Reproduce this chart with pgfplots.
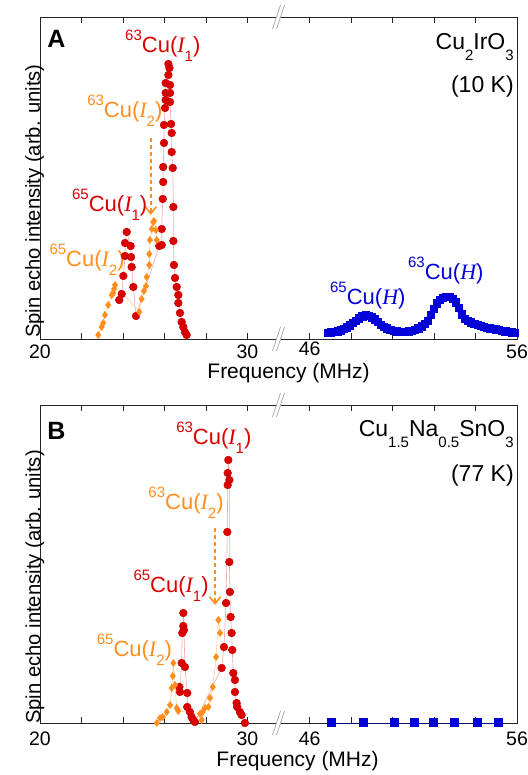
\documentclass[border=0pt]{standalone}
\usepackage{fontspec}
\setmainfont{Liberation Sans}
\newfontfamily\tms{Liberation Serif}
\usepackage{pgfplots}
\pgfplotsset{compat=1.18}
\usetikzlibrary{arrows.meta}
\definecolor{cred}{RGB}{218,0,0}
\definecolor{corange}{RGB}{255,142,30}
\definecolor{cblue}{RGB}{0,0,215}
\newcommand{\fT}{\fontsize{19.5}{23}\selectfont}
\newcommand{\fX}{\fontsize{21}{25}\selectfont}
\newcommand{\fY}{\fontsize{20.2}{24}\selectfont}
\newcommand{\fL}{\fontsize{22}{26}\selectfont}
\newcommand{\fS}{\fontsize{15}{18}\selectfont}
\newcommand{\isoI}[2]{\raisebox{12pt}{\fS #1}Cu({\tms\itshape I}\raisebox{-9pt}{\fS #2})}
\newcommand{\isoH}[1]{\raisebox{12pt}{\fS #1}Cu({\tms\itshape H})}
\newcommand{\sub}[1]{\raisebox{-11pt}{\fS #1}}
\newcommand{\brk}[1]{%
  \fill[white] (axis cs:31.5,#1) ++(-6pt,-12pt) -- ++(8pt,24pt) -- ++(4pt,0pt) -- ++(-8pt,-24pt) -- cycle;
  \draw[black!35, line width=0.7pt] (axis cs:31.5,#1) ++(-6pt,-12pt) -- ++(8pt,24pt);
  \draw[black!35, line width=0.7pt] (axis cs:31.5,#1) ++(-2pt,-12pt) -- ++(8pt,24pt);}
\pgfplotsset{
  panel/.style={
    scale only axis, width=477pt, xmin=20, xmax=43, ymin=0,
    xtick={20,22,24,26,28,30,33,35,37,39,41,43},
    ytick=\empty, tick align=inside, major tick length=6pt,
    clip=false,
    axis line style={black!85, line width=0.8pt},
    every tick/.style={black!85, line width=0.8pt},
    tick label style={font=\fT, inner sep=0pt},
    xlabel={Frequency (MHz)},
    ylabel={Spin echo intensity (arb. units)},
    ylabel style={font=\fY, at={(axis description cs:0,0.478)}, anchor=base, xshift=-16pt},
  },
  redl/.style={draw=cred!35, line width=0.6pt, mark=*, mark size=3.9pt, mark options={draw=cred!90!black, fill=cred, line width=0.4pt}},
  orgl/.style={draw=corange!45, line width=0.6pt, mark=diamond*, mark size=3.7pt, mark options={draw=corange, fill=corange, line width=0.3pt}},
}
\begin{document}
\begin{tikzpicture}
\useasboundingbox (0,0) rectangle (527pt,775pt);
% ---------------- Panel A ----------------
\begin{axis}[panel, at={(40pt,436pt)}, anchor=south west, height=322pt, ymax=322,
  xticklabels={20,,,,,30,\raisebox{3pt}{46},,,,,56},
  xticklabel style={anchor=base, yshift=-20pt},
  xlabel style={font=\fX, inner sep=0pt, at={(axis description cs:0.521,0)}, anchor=base, yshift=-40pt}]
% 65Cu(I1) + 63Cu(I1)
\addplot[redl] coordinates {
(23.82,39) (23.94,45) (24.02,63) (24.10,83) (24.10,96) (24.18,107) (24.37,93) (24.39,82) (24.42,72) (24.50,52) (24.63,23)
(25.75,93) (25.87,94) (25.87,110) (25.92,140) (25.94,157) (25.94,172) (25.98,196) (25.98,214) (26.03,231) (26.06,239) (26.06,246) (26.06,256)
(26.19,264) (26.19,275) (26.24,271) (26.27,254) (26.27,246) (26.27,237) (26.32,215) (26.35,206) (26.35,187) (26.40,171) (26.43,132) (26.43,98)
(26.46,74) (26.51,61) (26.59,52) (26.67,44) (26.67,36) (26.75,26) (26.83,17) (26.91,12) (26.99,7) (27.07,4)
};
% 65Cu(I2) + 63Cu(I2)
\addplot[orgl] coordinates {
(22.81,4) (22.97,12) (23.05,16) (23.13,24) (23.29,34) (23.46,44) (23.53,46) (23.57,50) (23.62,54)
(24.79,27) (24.90,40) (25.01,48) (25.11,53) (25.14,62) (25.27,74) (25.27,85) (25.30,99) (25.39,110) (25.46,117) (25.50,118) (25.59,109) (25.63,99)
};
% Cu(H)
\addplot[cblue, line width=6pt, mark=square*, mark size=3.6pt, mark options={line width=0pt}] table[x expr=\thisrowno{0}-13, y index=1] {
46.90 6
47.05 6.5
47.20 7
47.35 7.5
47.50 8.5
47.65 10
47.80 11.5
47.95 13.5
48.10 16
48.25 18
48.40 20.5
48.55 22.5
48.70 23.5
48.85 23
49.00 21.5
49.15 19.5
49.30 17
49.45 14
49.60 12
49.75 10.5
49.90 9
50.05 8
50.20 7.5
50.35 7
50.50 7
50.65 7
50.80 7.5
50.95 8
51.10 9
51.25 10.5
51.40 12.5
51.55 15
51.70 18
51.85 24
52.00 30
52.15 35.5
52.30 39
52.45 41
52.60 42
52.75 42
52.90 40
53.05 36.5
53.20 31
53.35 24.5
53.50 20
53.65 18
53.80 16.5
53.95 15
54.10 14
54.25 13
54.40 12
54.55 11
54.70 10.5
54.85 10
55.00 9.5
55.15 9
55.30 8
55.45 7.5
55.60 7
55.75 6.5
55.90 6
};
\draw[corange, line width=1.6pt, dash pattern=on 4pt off 3pt, -{Straight Barb[length=7pt,width=11pt,line width=1.6pt]}] (axis cs:25.34,201) -- (axis cs:25.34,124);
\brk{0}\brk{322}
\node[anchor=base west, inner sep=0, font=\fontsize{25}{28}\selectfont\bfseries] at (axis cs:20.34,291) {A};
\node[anchor=base west, inner sep=0, font=\fL, text=cred] at (axis cs:24.10,286) {\isoI{63}{1}};
\node[anchor=base west, inner sep=0, font=\fL, text=corange] at (axis cs:22.27,221) {\isoI{63}{2}};
\node[anchor=base west, inner sep=0, font=\fL, text=cred] at (axis cs:21.54,127) {\isoI{65}{1}};
\node[anchor=base west, inner sep=0, font=\fL, text=corange] at (axis cs:20.45,72) {\isoI{65}{2}};
\node[anchor=base west, inner sep=0, font=\fL, text=cblue] at (axis cs:33.98,34) {\isoH{65}};
\node[anchor=base west, inner sep=0, font=\fL, text=cblue] at (axis cs:37.74,59) {\isoH{63}};
\node[anchor=base east, inner sep=0, font=\fontsize{23}{26}\selectfont] at (axis cs:42.85,289) {Cu\sub{2}IrO\sub{3}};
\node[anchor=base east, inner sep=0, font=\fontsize{23}{26}\selectfont] at (axis cs:42.85,246) {(10 K)};
\end{axis}
% ---------------- Panel B ----------------
\begin{axis}[panel, at={(40pt,52pt)}, anchor=south west, height=318pt, ymax=318,
  xticklabels={20,,,,,30,46,,,,,56},
  xticklabel style={anchor=base, yshift=-23pt},
  xlabel style={font=\fX, inner sep=0pt, at={(axis description cs:0.54,0)}, anchor=base, yshift=-43pt}]
\addplot[redl] coordinates {
(26.72,36) (26.75,31) (26.83,60) (26.86,90) (26.91,97) (26.91,110) (26.94,93) (26.99,56) (27.10,30) (27.10,16) (27.23,11) (27.31,6) (27.39,3) (27.47,1)
(28.76,55) (28.87,76) (28.97,120) (29.03,191) (29.05,238) (29.05,250) (29.08,263) (29.13,243) (29.13,161) (29.16,131) (29.19,106) (29.24,90)
(29.27,73) (29.32,50) (29.40,43) (29.40,31) (29.48,20) (29.51,16) (29.64,11) (29.72,8) (29.88,0)
};
\addplot[orgl] coordinates {
(25.63,0) (25.79,5) (25.92,6) (26.11,11) (26.27,18) (26.35,35) (26.40,47) (26.43,60) (26.51,38) (26.59,15) (26.67,12)
(27.71,9) (27.80,3) (27.84,11) (27.96,15) (28.12,16) (28.20,25) (28.33,36) (28.49,66) (28.60,103) (28.68,90)
};
\addplot[cblue!70!black, line width=0.8pt, mark=square*, mark size=4pt, mark options={cblue, line width=0pt}] table[x expr=\thisrowno{0}-13, y index=1] {
47.07 0
48.62 0
50.08 0
51.08 0
51.99 0
53.01 0
54.10 0
55.10 0
};
\draw[corange, line width=1.6pt, dash pattern=on 4pt off 3pt, -{Straight Barb[length=7pt,width=11pt,line width=1.6pt]}] (axis cs:28.44,195) -- (axis cs:28.44,118);
\brk{0}\brk{318}
\node[anchor=base west, inner sep=0, font=\fontsize{25}{28}\selectfont\bfseries] at (axis cs:20.34,283) {B};
\node[anchor=base west, inner sep=0, font=\fL, text=cred] at (axis cs:26.56,278) {\isoI{63}{1}};
\node[anchor=base west, inner sep=0, font=\fL, text=corange] at (axis cs:25.22,213) {\isoI{63}{2}};
\node[anchor=base west, inner sep=0, font=\fL, text=cred] at (axis cs:24.50,130) {\isoI{65}{1}};
\node[anchor=base west, inner sep=0, font=\fL, text=corange] at (axis cs:22.73,66) {\isoI{65}{2}};
\node[anchor=base east, inner sep=0, font=\fontsize{23}{26}\selectfont] at (axis cs:42.85,286) {Cu\sub{1.5}Na\sub{0.5}SnO\sub{3}};
\node[anchor=base east, inner sep=0, font=\fontsize{23}{26}\selectfont] at (axis cs:42.85,241) {(77 K)};
\end{axis}
\end{tikzpicture}
\end{document}
